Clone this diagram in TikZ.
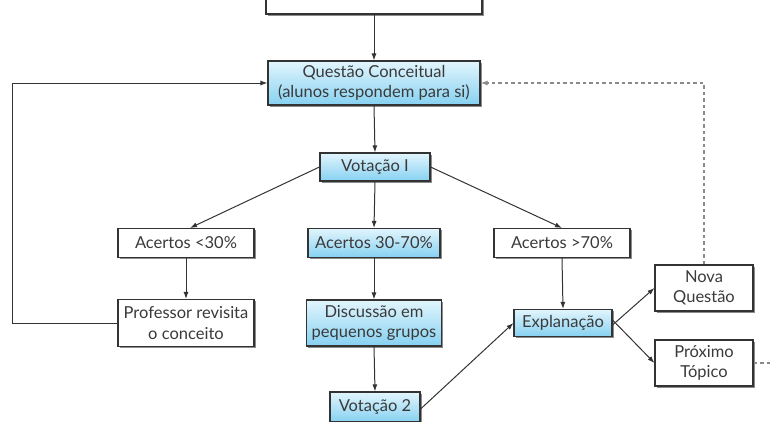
\documentclass[tikz,border=0pt]{standalone}
\usepackage{fontspec}
\setmainfont{Lato}
\usetikzlibrary{shadows,arrows.meta}
\definecolor{txt}{HTML}{3A3A3A}
\definecolor{edge}{HTML}{333333}
\definecolor{bluetop}{HTML}{E2F5FD}
\definecolor{bluebot}{HTML}{86D1F1}
\definecolor{dashgray}{HTML}{8A8A8A}
\tikzset{
  box/.style={draw=edge, line width=1.1pt, fill=white, text=txt, align=center,
    inner sep=1pt, font=\fontsize{16.5}{20.5}\selectfont,
    drop shadow={shadow xshift=1.8pt, shadow yshift=-1.8pt, fill=black!60, opacity=0.75}},
  bluebox/.style={box, top color=bluetop, bottom color=bluebot},
  conn/.style={draw=edge, line width=1pt, -{Latex[length=7pt,width=5pt]}},
  dconn/.style={draw=dashgray, line width=1.2pt, dash pattern=on 3.5pt off 3pt},
}
\begin{document}
\begin{tikzpicture}[x=1pt,y=-1pt]
\useasboundingbox (0,0) rectangle (771,421);
\node[box, minimum width=216, minimum height=40] (top) at (374,-6) {};
\node[bluebox, minimum width=212, minimum height=44] (quest) at (374,83) {Questão Conceitual\\(alunos respondem para si)};
\node[bluebox, minimum width=110, minimum height=28] (vot1) at (375,167) {Votação I};
\node[box, minimum width=136, minimum height=29] (acl) at (186,243) {Acertos <30\%};
\node[bluebox, minimum width=132, minimum height=29] (acm) at (374,243) {Acertos 30-70\%};
\node[box, minimum width=136, minimum height=29] (ach) at (562,243) {Acertos >70\%};
\node[box, minimum width=136, minimum height=47] (prof) at (186,323) {Professor revisita\\o conceito};
\node[bluebox, minimum width=135, minimum height=46] (disc) at (374,323) {Discussão em\\pequenos grupos};
\node[bluebox, minimum width=90, minimum height=30] (vot2) at (375,407) {Votação 2};
\node[bluebox, minimum width=98, minimum height=27] (expl) at (563,323) {Explanação};
\node[box, minimum width=98, minimum height=46] (nova) at (704,288) {Nova\\Questão};
\node[box, minimum width=98, minimum height=46] (prox) at (704,363) {Próximo\\Tópico};
\coordinate (loop) at (12,323);
\coordinate (offr) at (775,363);
\draw[conn] (top.south) -- (quest.north);
\draw[conn] (quest.south) -- (vot1.north);
\draw[conn] (vot1.west) -- ([xshift=4pt]acl.north);
\draw[conn] (vot1.south) -- (acm.north);
\draw[conn] (vot1.east) -- (ach.north);
\draw[conn] (acl.south) -- (prof.north);
\draw[conn] (acm.south) -- (disc.north);
\draw[conn] (disc.south) -- (vot2.north);
\draw[conn] (ach.south) -- (expl.north);
\draw[conn] ([yshift=-2pt]vot2.east) -- (expl.west);
\draw[conn] ([yshift=-2pt]expl.east) -- (nova.west);
\draw[conn] ([yshift=3pt]expl.east) -- (prox.west);
\draw[conn] (prof.west) -- (loop) |- (quest.west);
\draw[dconn, -{Latex[length=7pt,width=5pt]}] (nova.north) |- (quest.east);
\draw[dconn] (prox.east) -- (offr);
\end{tikzpicture}
\end{document}
